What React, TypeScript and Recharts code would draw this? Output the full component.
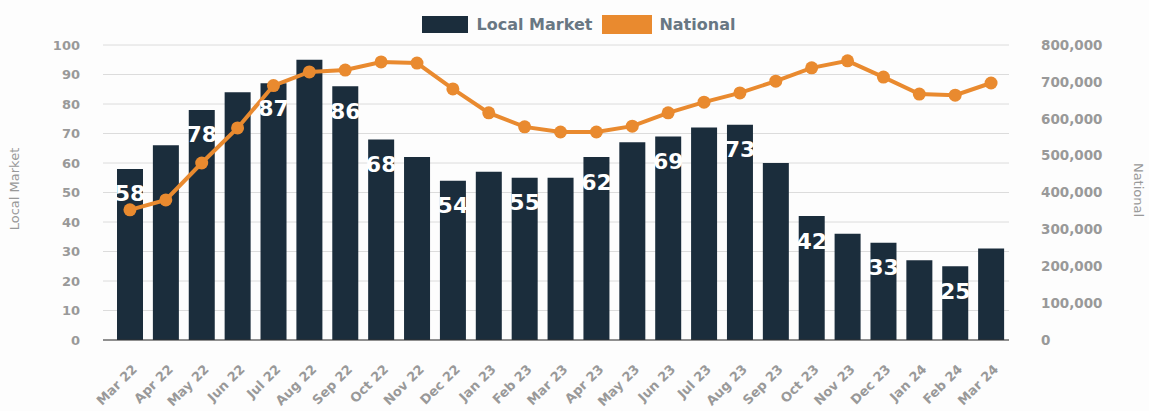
import React from 'react'
import { ComposedChart, Bar, Line, XAxis, YAxis, CartesianGrid, LabelList } from 'recharts'

const months = [
  'Mar 22', 'Apr 22', 'May 22', 'Jun 22', 'Jul 22', 'Aug 22', 'Sep 22', 'Oct 22', 'Nov 22', 'Dec 22',
  'Jan 23', 'Feb 23', 'Mar 23', 'Apr 23', 'May 23', 'Jun 23', 'Jul 23', 'Aug 23', 'Sep 23', 'Oct 23',
  'Nov 23', 'Dec 23', 'Jan 24', 'Feb 24', 'Mar 24',
]
const localMarket = [58, 66, 78, 84, 87, 95, 86, 68, 62, 54, 57, 55, 55, 62, 67, 69, 72, 73, 60, 42, 36, 33, 27, 25, 31]
const national = [
  353000, 380000, 480000, 575000, 690000, 727000, 732000, 754000, 751000, 681000,
  616000, 578000, 564000, 564000, 580000, 616000, 645000, 670000, 702000, 738000,
  757000, 713000, 667000, 664000, 697000,
]
// which bar labels are visible in the original (others were hidden by overlap)
const showLabel = [
  true, false, true, false, true, false, true, true, false, true,
  false, true, false, true, false, true, false, true, false, true,
  false, true, false, true, false,
]
const leftTicks = [0, 10, 20, 30, 40, 50, 60, 70, 80, 90, 100]
const rightTicks = [0, 100000, 200000, 300000, 400000, 500000, 600000, 700000, 800000]

const data = months.map((m, i) => ({
  month: m,
  local: localMarket[i],
  national: national[i],
}))

const BAR = '#1b2d3c'
const ORANGE = '#e98a2f'
const FONT = '"DejaVu Sans", sans-serif'

const MonthTick = (props: any) => {
  const { x, y, payload } = props
  const tx = x + 8
  const ty = y + 28
  return (
    <text
      x={tx}
      y={ty}
      transform={`rotate(-45 ${tx} ${ty})`}
      textAnchor="end"
      fontFamily={FONT}
      fontWeight="bold"
      fontSize={13}
      fill="#999"
    >
      {payload.value}
    </text>
  )
}

const BarLabel = (props: any) => {
  const { x, y, width, index } = props
  if (!showLabel[index]) return null
  return (
    <text
      x={x + width / 2}
      y={y + 25}
      textAnchor="middle"
      dominantBaseline="central"
      fontFamily={FONT}
      fontWeight="bold"
      fontSize={22}
      fill="#fff"
    >
      {localMarket[index]}
    </text>
  )
}

export default function App() {
  return (
    <div style={{ position: 'absolute', left: 0, top: 0, width: 1149, height: 411, background: '#fdfdfd' }}>
      <div
        style={{
          position: 'absolute',
          top: 15,
          left: 0,
          width: 1149,
          display: 'flex',
          justifyContent: 'center',
          alignItems: 'center',
          fontFamily: FONT,
          fontWeight: 'bold',
          fontSize: 16,
          color: '#687783',
          paddingLeft: 8,
          boxSizing: 'border-box',
        }}
      >
        <span style={{ display: 'inline-block', width: 46, height: 17, background: BAR, marginRight: 9 }} />
        <span style={{ marginRight: 10 }}>Local Market</span>
        <span style={{ display: 'inline-block', width: 50, height: 19, background: ORANGE, marginRight: 7 }} />
        <span>National</span>
      </div>
      <ComposedChart
        width={1149}
        height={411}
        data={data}
        margin={{ top: 45, right: 0, bottom: 0, left: 0 }}
        barSize={26}
      >
        <CartesianGrid yAxisId="left" vertical={false} stroke="#dcdcdc" />
        <XAxis
          dataKey="month"
          interval={0}
          height={71}
          padding={{ left: 9, right: 0 }}
          axisLine={{ stroke: '#333', strokeWidth: 1 }}
          tickLine={false}
          tickSize={0}
          tick={<MonthTick />}
        />
        <YAxis
          yAxisId="left"
          width={103}
          domain={[0, 100]}
          ticks={leftTicks}
          axisLine={false}
          tickLine={false}
          tickSize={0}
          tickMargin={23}
          tick={{ fill: '#999', fontSize: 13, fontWeight: 'bold', fontFamily: FONT }}
          label={{
            content: () => (
              <text
                x={14}
                y={189}
                transform="rotate(-90 14 189)"
                textAnchor="middle"
                dominantBaseline="central"
                fontFamily={FONT}
                fontSize={13}
                fill="#999"
              >
                Local Market
              </text>
            ),
          }}
        />
        <YAxis
          yAxisId="right"
          orientation="right"
          width={140}
          domain={[0, 800000]}
          ticks={rightTicks}
          axisLine={false}
          tickLine={false}
          tickSize={0}
          tickMargin={32}
          tickFormatter={(v: number) => v.toLocaleString('en-US')}
          tick={{ fill: '#999', fontSize: 13.5, fontWeight: 'bold', fontFamily: FONT }}
          label={{
            content: () => (
              <text
                x={1138}
                y={190}
                transform="rotate(90 1138 190)"
                textAnchor="middle"
                dominantBaseline="central"
                fontFamily={FONT}
                fontSize={13}
                fill="#999"
              >
                National
              </text>
            ),
          }}
        />
        <Bar yAxisId="left" dataKey="local" fill={BAR} isAnimationActive={false}>
          <LabelList dataKey="local" content={<BarLabel />} />
        </Bar>
        <Line
          yAxisId="right"
          dataKey="national"
          type="linear"
          stroke={ORANGE}
          strokeWidth={4}
          dot={{ r: 6.5, fill: ORANGE, stroke: ORANGE, strokeWidth: 0 }}
          activeDot={false}
          isAnimationActive={false}
        />
      </ComposedChart>
    </div>
  )
}
